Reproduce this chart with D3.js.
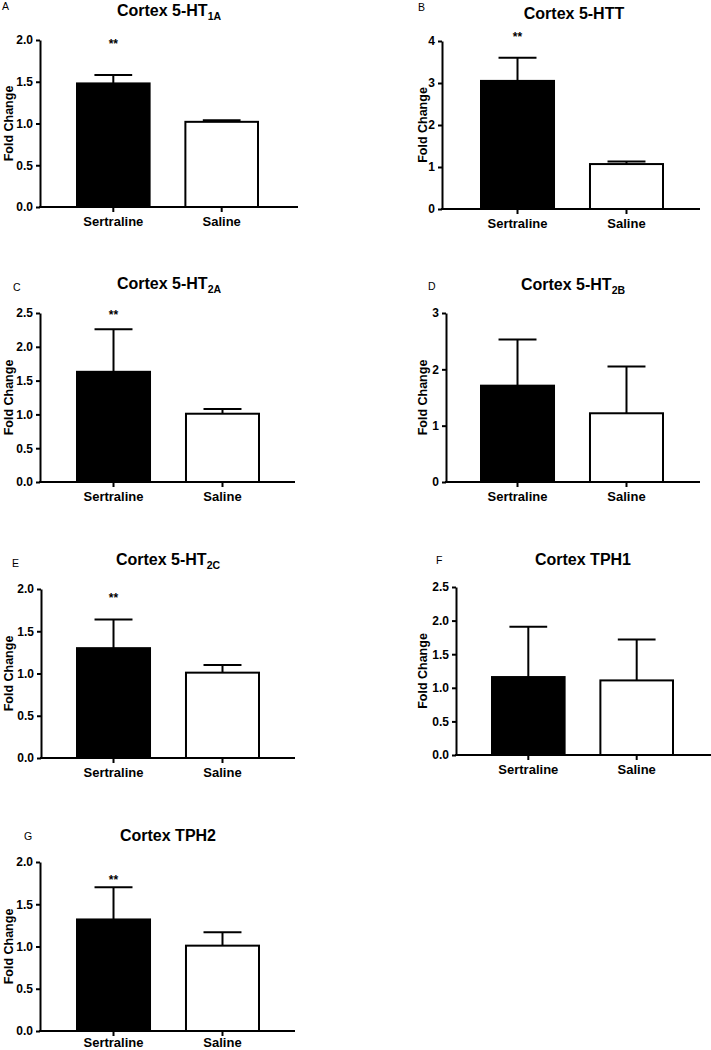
<!DOCTYPE html>
<html><head><meta charset="utf-8">
<script src="https://cdn.jsdelivr.net/npm/d3@7"></script>
<style>
body{margin:0;background:#fff}
svg text{font-family:Arial,"Liberation Sans",sans-serif;fill:#000}
</style>
</head><body>
<svg id="chart" width="711" height="1050"></svg>
<script>
// ---------- data ----------
const groups = ["Sertraline", "Saline"];
const panelLetters = ["A", "B", "C", "D", "E", "F", "G"];
const titleMain = ["Cortex 5-HT", "Cortex 5-HTT", "Cortex 5-HT", "Cortex 5-HT", "Cortex 5-HT", "Cortex TPH1", "Cortex TPH2"];
const titleSub = ["1A", "", "2A", "2B", "2C", "", ""];
const sertralineMean = [1.48, 3.05, 1.63, 1.71, 1.30, 1.16, 1.32];
const sertralineErrTop = [1.58, 3.60, 2.26, 2.53, 1.64, 1.91, 1.70];
const salineMean = [1.02, 1.07, 1.01, 1.22, 1.01, 1.11, 1.01];
const salineErrTop = [1.04, 1.13, 1.08, 2.05, 1.10, 1.72, 1.17];
const significant = [true, true, true, false, true, false, true];
const yMax = [2, 4, 2.5, 3, 2, 2.5, 2];
const yTicks = [
  [0, 0.5, 1, 1.5, 2],
  [0, 1, 2, 3, 4],
  [0, 0.5, 1, 1.5, 2, 2.5],
  [0, 1, 2, 3],
  [0, 0.5, 1, 1.5, 2],
  [0, 0.5, 1, 1.5, 2, 2.5],
  [0, 0.5, 1, 1.5, 2]
];
const yTickFormat = [".1f", "d", ".1f", "d", ".1f", ".1f", ".1f"];
const yLabel = "Fold Change";
const sigLabel = "**";

// ---------- layout (positions only) ----------
const layout = [
  {ax: 40,  axEnd: 298, bars: [77, 258],  yTop: 40,  y0: 207,  titleX: 169, titleY: 16,  letterX: 2,   letterY: 10,  labelX: 13,  starAt: 1.99, xPad: 4.8},
  {ax: 442, axEnd: 700, bars: [481, 663], yTop: 41,  y0: 209,  titleX: 574, titleY: 19,  letterX: 418, letterY: 11,  labelX: 427, starAt: 4.17, xPad: 4.8},
  {ax: 40,  axEnd: 295, bars: [77, 259],  yTop: 313, y0: 482,  titleX: 169, titleY: 289, letterX: 13,  letterY: 291, labelX: 13,  starAt: 2.52, xPad: 4.8},
  {ax: 446, axEnd: 700, bars: [481, 663], yTop: 313, y0: 482,  titleX: 573, titleY: 290, letterX: 428, letterY: 290, labelX: 427, starAt: 0,    xPad: 4.8},
  {ax: 41,  axEnd: 295, bars: [77, 259],  yTop: 589, y0: 758,  titleX: 168, titleY: 565, letterX: 12,  letterY: 567, labelX: 13,  starAt: 1.93, xPad: 4.8},
  {ax: 456, axEnd: 711, bars: [492, 673], yTop: 587, y0: 755,  titleX: 583, titleY: 565, letterX: 436, letterY: 564, labelX: 427, starAt: 0,    xPad: 4.8},
  {ax: 40,  axEnd: 295, bars: [77, 259],  yTop: 862, y0: 1031, titleX: 168, titleY: 841, letterX: 24,  letterY: 840, labelX: 13,  starAt: 1.83, xPad: 1.5}
];

const svg = d3.select("#chart");

panelLetters.forEach((letter, i) => {
  const L = layout[i];
  const g = svg.append("g");
  const y = d3.scaleLinear().domain([0, yMax[i]]).range([L.y0, L.yTop]);
  const x = d3.scaleBand().domain(groups).range(L.bars).paddingInner(0.33).paddingOuter(0);
  const rows = [
    {name: groups[0], mean: sertralineMean[i], err: sertralineErrTop[i], fill: "#000"},
    {name: groups[1], mean: salineMean[i], err: salineErrTop[i], fill: "#fff"}
  ];

  // panel letter
  g.append("text").attr("x", L.letterX).attr("y", L.letterY)
    .attr("font-size", 10.5).text(letter);

  // title
  const t = g.append("text").attr("x", L.titleX).attr("y", L.titleY)
    .attr("text-anchor", "middle").attr("font-size", 16).attr("font-weight", "bold");
  t.append("tspan").text(titleMain[i]);
  if (titleSub[i]) t.append("tspan").attr("font-size", 10.5).attr("dy", 3.5).text(titleSub[i]);

  // error bars
  rows.forEach(r => {
    const cx = x(r.name) + x.bandwidth() / 2;
    const capHalf = x.bandwidth() * 0.26;
    g.append("line").attr("x1", cx).attr("x2", cx).attr("y1", y(r.mean)).attr("y2", y(r.err))
      .attr("stroke", "#000").attr("stroke-width", 2);
    g.append("line").attr("x1", cx - capHalf).attr("x2", cx + capHalf).attr("y1", y(r.err)).attr("y2", y(r.err))
      .attr("stroke", "#000").attr("stroke-width", 2);
  });

  // bars
  g.selectAll("rect.bar").data(rows).join("rect").attr("class", "bar")
    .attr("x", d => x(d.name)).attr("width", x.bandwidth())
    .attr("y", d => y(d.mean)).attr("height", d => y(0) - y(d.mean))
    .attr("fill", d => d.fill).attr("stroke", "#000").attr("stroke-width", 2);

  // y axis
  const yAxis = d3.axisLeft(y).tickValues(yTicks[i]).tickFormat(d3.format(yTickFormat[i]))
    .tickSize(4).tickSizeOuter(0).tickPadding(3);
  const ya = g.append("g").attr("transform", `translate(${L.ax},0)`).call(yAxis);
  ya.select(".domain").attr("stroke-width", 2);
  ya.selectAll(".tick line").attr("stroke-width", 2);
  ya.selectAll(".tick text").attr("font-size", 12).attr("font-weight", "bold")
    .attr("font-family", "Arial, 'Liberation Sans', sans-serif").attr("fill", "#000");

  // x axis
  const xAxis = d3.axisBottom(x).tickSize(5).tickSizeOuter(0).tickPadding(L.xPad);
  const xa = g.append("g").attr("transform", `translate(0,${L.y0})`).call(xAxis);
  xa.select(".domain").remove();
  xa.selectAll(".tick line").attr("stroke-width", 2);
  xa.selectAll(".tick text").attr("font-size", 13).attr("font-weight", "bold")
    .attr("font-family", "Arial, 'Liberation Sans', sans-serif").attr("fill", "#000");
  xa.append("line").attr("x1", L.ax - 1).attr("x2", L.axEnd).attr("y1", 0).attr("y2", 0)
    .attr("stroke", "#000").attr("stroke-width", 2);

  // y label
  g.append("text").attr("transform", `translate(${L.labelX},${(L.y0 + L.yTop) / 2}) rotate(-90)`)
    .attr("text-anchor", "middle").attr("font-size", 12.5).attr("font-weight", "bold").text(yLabel);

  // significance
  if (significant[i]) {
    g.append("text").attr("x", x(groups[0]) + x.bandwidth() / 2).attr("y", y(L.starAt) + 7.5)
      .attr("text-anchor", "middle").attr("font-size", 12).attr("font-weight", "bold").text(sigLabel);
  }
});
</script>
</body></html>
